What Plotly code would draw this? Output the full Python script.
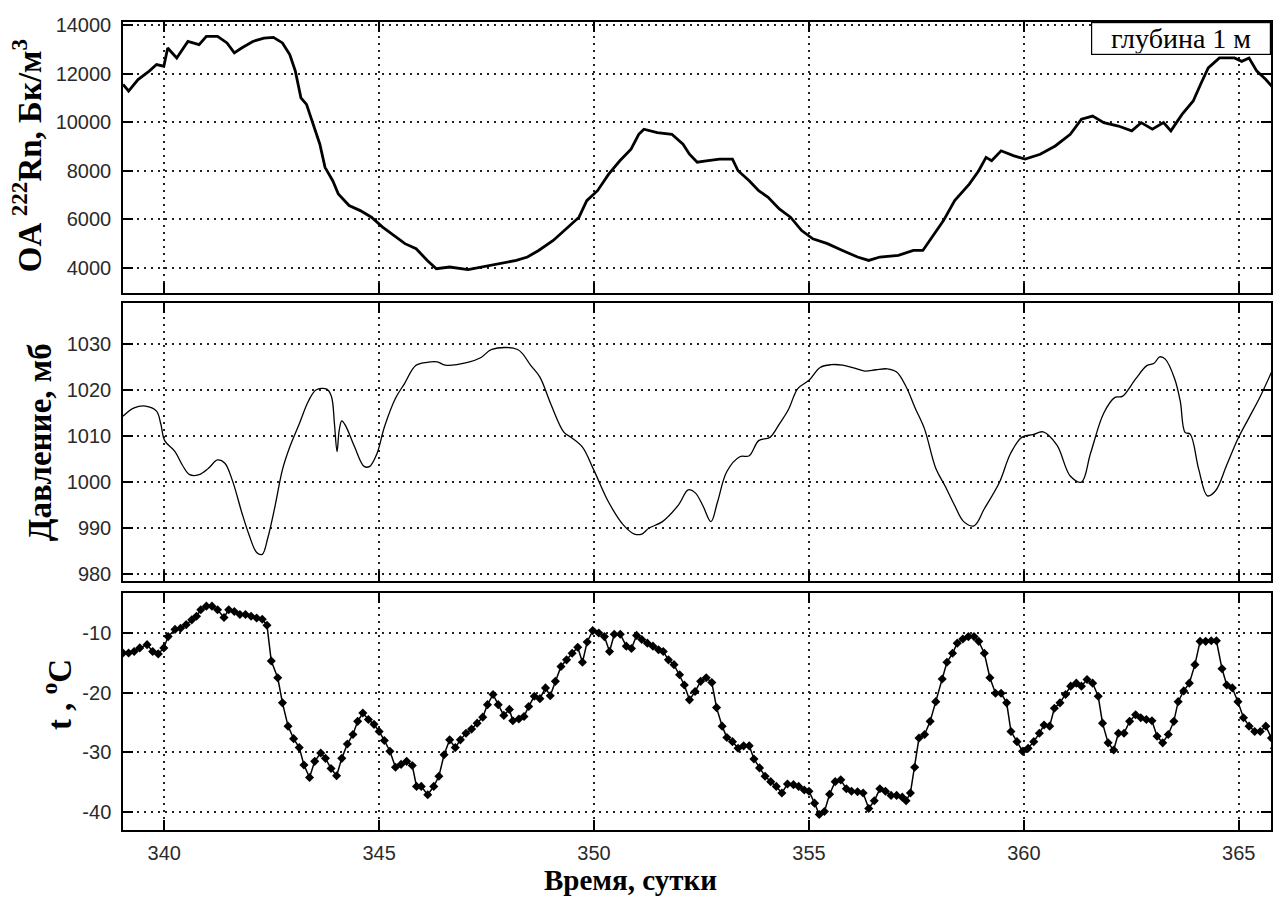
import plotly.graph_objects as go
from plotly.subplots import make_subplots

# ---- Radon volumetric activity (Bq/m3) ----
rn_day = [339.04, 339.17, 339.39, 339.65, 339.82, 339.99, 340.08, 340.29, 340.55, 340.81,
          340.98, 341.24, 341.46, 341.63, 341.80, 342.06, 342.32, 342.54, 342.75, 342.92,
          343.05, 343.18, 343.31, 343.44, 343.62, 343.74, 343.92, 344.05, 344.30, 344.56,
          344.82, 345.08, 345.34, 345.60, 345.86, 346.12, 346.33, 346.64, 347.07, 347.41,
          347.76, 348.19, 348.45, 348.71, 349.05, 349.40, 349.65, 349.83, 350.08, 350.34,
          350.60, 350.86, 351.04, 351.16, 351.47, 351.81, 352.07, 352.22, 352.40, 352.61,
          352.92, 353.22, 353.35, 353.61, 353.83, 354.05, 354.31, 354.57, 354.83, 355.09,
          355.43, 355.78, 356.13, 356.39, 356.65, 357.08, 357.43, 357.65, 357.86, 358.13,
          358.39, 358.73, 358.95, 359.12, 359.25, 359.47, 359.77, 360.03, 360.38, 360.73,
          361.08, 361.34, 361.60, 361.86, 362.20, 362.51, 362.73, 362.99, 363.25, 363.42,
          363.68, 363.94, 364.11, 364.29, 364.55, 364.90, 365.07, 365.24, 365.42, 365.63,
          365.80]
rn_val = [11550, 11280, 11750, 12100, 12370, 12300, 13050, 12640, 13320, 13190,
          13530, 13530, 13260, 12850, 13050, 13320, 13460, 13490, 13260, 12780,
          12100, 11000, 10730, 10050, 9090, 8140, 7590, 7040, 6570, 6360,
          6090, 5680, 5340, 5000, 4790, 4310, 3970, 4040, 3930, 4040,
          4180, 4310, 4450, 4720, 5130, 5680, 6090, 6770, 7180, 7860,
          8410, 8890, 9500, 9710, 9570, 9500, 9090, 8680, 8350, 8410,
          8480, 8480, 8000, 7590, 7180, 6910, 6430, 6090, 5540, 5200,
          5000, 4720, 4450, 4310, 4450, 4520, 4720, 4720, 5270, 5950,
          6770, 7450, 8000, 8550, 8410, 8820, 8610, 8480, 8680, 9020,
          9500, 10120, 10250, 9980, 9840, 9640, 9980, 9710, 9980, 9640,
          10320, 10870, 11550, 12230, 12640, 12640, 12500, 12640, 12100, 11750,
          11410]

# ---- Atmospheric pressure (mb) ----
p_day = [339.04, 339.30, 339.56, 339.82, 339.92, 340.01, 340.25, 340.42, 340.59, 340.81,
         341.03, 341.24, 341.41, 341.59, 341.80, 341.97, 342.15, 342.28, 342.41, 342.58,
         342.75, 342.92, 343.14, 343.35, 343.53, 343.78, 343.89, 343.96, 344.02, 344.07,
         344.13, 344.22, 344.43, 344.65, 344.78, 344.95, 345.12, 345.38, 345.59, 345.85,
         346.11, 346.35, 346.54, 347.06, 347.36, 347.62, 348.22, 348.53, 348.74, 349.00,
         349.30, 349.47, 349.73, 349.99, 350.34, 350.68, 350.94, 351.11, 351.28, 351.59,
         351.97, 352.19, 352.35, 352.53, 352.72, 352.87, 353.09, 353.39, 353.61, 353.83,
         354.09, 354.31, 354.52, 354.74, 355.00, 355.26, 355.52, 355.78, 356.04, 356.30,
         356.56, 356.82, 357.04, 357.26, 357.47, 357.69, 357.95, 358.17, 358.39, 358.60,
         358.84, 359.08, 359.43, 359.69, 359.95, 360.21, 360.45, 360.77, 361.08, 361.34,
         361.55, 361.86, 362.12, 362.29, 362.60, 362.86, 363.03, 363.16, 363.29, 363.51,
         363.64, 363.75, 363.87, 364.07, 364.27, 364.46, 364.72, 364.98, 365.24, 365.50,
         365.81]
p_val = [1014.3, 1016.1, 1016.5, 1015.4, 1012.6, 1009.0, 1006.6, 1003.7, 1001.6, 1001.6,
         1003.0, 1004.8, 1004.1, 1000.2, 993.5, 988.6, 984.7, 984.3, 987.9, 994.9,
         1002.7, 1007.6, 1012.6, 1017.5, 1020.0, 1020.2, 1018.6, 1012.6, 1006.6, 1011.2,
         1013.3, 1012.2, 1007.6, 1003.4, 1003.4, 1006.2, 1011.9, 1018.2, 1021.4, 1025.3,
         1026.0, 1026.1, 1025.4, 1026.0, 1027.0, 1028.8, 1028.8, 1025.3, 1022.8, 1016.8,
         1010.8, 1009.7, 1007.6, 1002.7, 995.6, 990.7, 988.7, 988.7, 990.0, 991.4,
         995.1, 998.3, 997.7, 994.9, 991.4, 995.6, 1002.3, 1005.5, 1005.7, 1009.0,
         1009.7, 1012.6, 1015.7, 1020.3, 1022.1, 1024.9, 1025.5, 1025.4, 1024.8, 1024.1,
         1024.4, 1024.6, 1023.9, 1020.7, 1016.1, 1011.5, 1003.0, 999.1, 994.9, 991.4,
         990.5, 994.2, 999.9, 1006.2, 1009.7, 1010.3, 1010.9, 1008.0, 1001.3, 1000.0,
         1006.2, 1015.0, 1018.4, 1018.6, 1022.4, 1025.3, 1025.8, 1027.2, 1026.7, 1022.4,
         1017.5, 1010.8, 1010.4, 1002.7, 997.0, 998.1, 1003.7, 1009.4, 1014.0, 1018.6,
         1024.9]

# ---- Air temperature (deg C) ----
t_day = [339.04, 339.17, 339.30, 339.43, 339.60, 339.73, 339.86, 339.99, 340.09, 340.25,
         340.38, 340.51, 340.64, 340.75, 340.85, 340.98, 341.11, 341.24, 341.39, 341.50,
         341.63, 341.76, 341.89, 342.02, 342.15, 342.28, 342.39, 342.49, 342.64, 342.75,
         342.88, 343.01, 343.14, 343.25, 343.38, 343.50, 343.64, 343.75, 343.88, 344.01,
         344.13, 344.26, 344.39, 344.50, 344.62, 344.75, 344.88, 345.00, 345.12, 345.25,
         345.38, 345.51, 345.64, 345.77, 345.87, 345.98, 346.13, 346.27, 346.39, 346.51,
         346.64, 346.77, 346.89, 347.02, 347.15, 347.28, 347.41, 347.52, 347.65, 347.77,
         347.90, 348.03, 348.11, 348.25, 348.37, 348.48, 348.61, 348.74, 348.87, 348.98,
         349.10, 349.23, 349.36, 349.49, 349.62, 349.73, 349.84, 349.97, 350.11, 350.24,
         350.36, 350.47, 350.61, 350.75, 350.87, 350.99, 351.11, 351.24, 351.37, 351.50,
         351.61, 351.73, 351.86, 351.99, 352.10, 352.22, 352.35, 352.48, 352.61, 352.74,
         352.85, 352.98, 353.09, 353.22, 353.35, 353.48, 353.61, 353.72, 353.85, 353.98,
         354.11, 354.24, 354.37, 354.50, 354.64, 354.76, 354.89, 355.00, 355.13, 355.24,
         355.36, 355.48, 355.61, 355.74, 355.87, 355.99, 356.13, 356.26, 356.39, 356.52,
         356.65, 356.78, 356.91, 357.04, 357.17, 357.26, 357.36, 357.46, 357.56, 357.69,
         357.82, 357.95, 358.10, 358.21, 358.34, 358.45, 358.58, 358.71, 358.84, 358.95,
         359.08, 359.21, 359.34, 359.47, 359.60, 359.70, 359.84, 359.97, 360.10, 360.23,
         360.36, 360.47, 360.60, 360.71, 360.84, 360.97, 361.09, 361.22, 361.34, 361.47,
         361.60, 361.73, 361.83, 361.96, 362.09, 362.20, 362.33, 362.46, 362.60, 362.72,
         362.85, 362.98, 363.10, 363.23, 363.36, 363.49, 363.59, 363.72, 363.85, 363.98,
         364.10, 364.23, 364.36, 364.48, 364.61, 364.72, 364.85, 364.98, 365.11, 365.24,
         365.37, 365.50, 365.63, 365.76, 365.83]
t_val = [-13.35, -13.35, -13.1, -12.5, -11.95, -13.1, -13.5, -12.5, -10.6, -9.4,
         -9.2, -8.6, -7.8, -7.2, -6.1, -5.5, -5.5, -6.1, -7.4, -6.1,
         -6.4, -6.9, -6.9, -7.2, -7.5, -7.7, -8.7, -14.7, -17.5, -21.7,
         -25.6, -27.7, -29.2, -32.1, -34.2, -31.5, -30.1, -31.0, -32.7, -33.9,
         -31.0, -28.6, -27.0, -24.8, -23.4, -24.5, -25.3, -26.5, -28.0, -29.8,
         -32.5, -32.0, -31.5, -32.2, -35.7, -35.7, -37.1, -35.7, -34.0, -30.4,
         -27.9, -29.2, -27.9, -26.8, -26.1, -25.1, -24.1, -22.0, -20.3, -22.0,
         -23.8, -22.8, -24.7, -24.4, -24.0, -22.3, -20.6, -21.0, -19.2, -20.5,
         -18.1, -15.6, -14.5, -13.4, -12.4, -14.9, -11.5, -9.6, -10.0, -10.6,
         -13.1, -10.2, -10.2, -12.2, -12.6, -10.4, -11.1, -11.7, -12.2, -12.8,
         -13.1, -14.5, -15.3, -17.0, -18.7, -21.2, -19.8, -18.1, -17.5, -18.3,
         -22.5, -25.6, -27.5, -28.2, -29.3, -28.9, -28.9, -31.1, -32.6, -34.0,
         -34.9, -35.7, -36.8, -35.3, -35.4, -35.7, -36.3, -36.5, -38.5, -40.4,
         -39.9, -37.0, -34.9, -34.6, -36.1, -36.5, -36.6, -36.8, -39.4, -38.1,
         -36.1, -36.5, -37.2, -37.2, -37.5, -38.1, -36.8, -32.5, -27.6, -27.0,
         -24.8, -21.5, -17.7, -14.9, -13.4, -11.7, -11.0, -10.6, -10.6, -11.4,
         -13.4, -17.5, -20.1, -20.1, -21.7, -26.5, -28.2, -29.8, -29.3, -28.2,
         -26.8, -25.4, -25.6, -22.6, -21.7, -20.3, -18.9, -18.4, -18.9, -17.8,
         -18.4, -20.6, -25.1, -28.4, -29.6, -26.8, -26.8, -24.8, -23.7, -24.2,
         -24.5, -24.7, -27.3, -28.4, -27.0, -24.8, -21.5, -19.7, -18.4, -15.3,
         -11.4, -11.4, -11.3, -11.3, -16.0, -18.7, -19.2, -21.5, -24.2, -25.6,
         -26.5, -26.5, -25.6, -27.6, -29.3]

x_ticks = [340, 345, 350, 355, 360, 365]
rn_ticks = [4000, 6000, 8000, 10000, 12000, 14000]
p_ticks = [980, 990, 1000, 1010, 1020, 1030]
t_ticks = [-40, -30, -20, -10]
t_tick_labels = ["-40", "-30", "-20", "-10"]

fig = make_subplots(rows=3, cols=1, shared_xaxes=True, vertical_spacing=0.01)

fig.add_trace(go.Scatter(x=rn_day, y=rn_val, mode="lines",
                         line=dict(color="black", width=2.8)), row=1, col=1)
fig.add_trace(go.Scatter(x=p_day, y=p_val, mode="lines", line_shape="spline",
                         line=dict(color="black", width=1.3)), row=2, col=1)
fig.add_trace(go.Scatter(x=t_day, y=t_val, mode="lines+markers",
                         line=dict(color="black", width=1.5),
                         marker=dict(symbol="diamond", size=7, color="black")), row=3, col=1)

H = 808.0
W = 1150.0
def dom(top, bot):
    return [(830 - bot) / H, (830 - top) / H]

tick_font = dict(family="Liberation Sans, Arial", size=20, color="#2a2a2a")
axis_common = dict(showline=True, linecolor="black", linewidth=1.5, mirror="ticks",
                   ticks="inside", ticklen=10, tickwidth=1.5, tickcolor="black",
                   showgrid=True, gridcolor="#222", griddash="2px,5px", gridwidth=1.5,
                   zeroline=False, tickfont=tick_font)

xr = [339.04, 365.75]
for i in (1, 2, 3):
    fig.update_xaxes(range=xr, tickvals=x_ticks, row=i, col=1, **axis_common)
fig.update_xaxes(showticklabels=False, row=1, col=1)
fig.update_xaxes(showticklabels=False, row=2, col=1)
fig.update_xaxes(ticklabelstandoff=4, row=3, col=1)

fig.update_yaxes(range=[2970, 14120], tickvals=rn_ticks, tickformat="d",
                 domain=dom(22, 293), ticklabelstandoff=6, row=1, col=1, **axis_common)
fig.update_yaxes(range=[978.5, 1038.9], tickvals=p_ticks, tickformat="d",
                 domain=dom(303, 581), ticklabelstandoff=6, row=2, col=1, **axis_common)
fig.update_yaxes(range=[-43.0, -3.3], tickvals=t_ticks, ticktext=t_tick_labels,
                 domain=dom(593, 830), ticklabelstandoff=6, row=3, col=1, **axis_common)

title_font = dict(family="Liberation Serif, Times New Roman, serif", size=33, color="black")
fig.add_annotation(text="<b>OA <sup>222</sup>Rn, Бк/м<sup>3</sup></b>", textangle=-90,
                   xref="paper", yref="paper", x=(27 - 123) / W, y=(830 - 156) / H,
                   xanchor="center", yanchor="middle", showarrow=False, font=title_font)
fig.add_annotation(text="<b>Давление, мб</b>", textangle=-90,
                   xref="paper", yref="paper", x=(40 - 123) / W, y=(830 - 442) / H,
                   xanchor="center", yanchor="middle", showarrow=False, font=title_font)
fig.add_annotation(text="<b>t , <sup>o</sup>C</b>", textangle=-90,
                   xref="paper", yref="paper", x=(57 - 123) / W, y=(830 - 695) / H,
                   xanchor="center", yanchor="middle", showarrow=False, font=title_font)
fig.add_annotation(text="<b>Время, сутки</b>", xref="paper", yref="paper",
                   x=(631 - 123) / W, y=-(880 - 830) / H, xanchor="center", yanchor="middle",
                   showarrow=False,
                   font=dict(family="Liberation Serif, Times New Roman, serif", size=29,
                             color="black"))
fig.add_annotation(text="глубина 1 м", xref="paper", yref="paper",
                   x=1.0, y=1.0, xanchor="right", yanchor="top", showarrow=False,
                   font=dict(family="Liberation Serif, Times New Roman, serif", size=28,
                             color="black"),
                   width=176, height=29, align="center",
                   bordercolor="black", borderwidth=1.2, bgcolor="white", borderpad=1)

fig.update_layout(width=1273, height=908, showlegend=False,
                  margin=dict(l=123, r=0, t=22, b=78),
                  plot_bgcolor="white", paper_bgcolor="white")

fig.write_html("out.html")
